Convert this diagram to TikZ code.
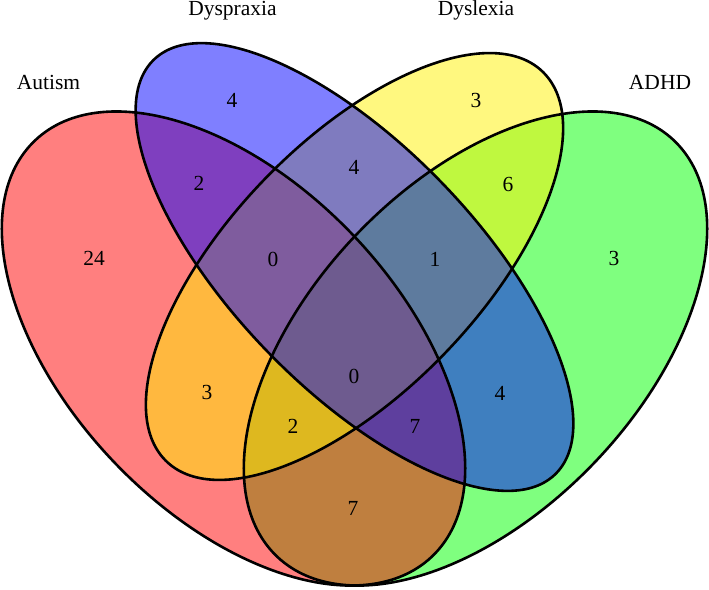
\documentclass[tikz,border=0pt]{standalone}
\usepackage{fontspec}
\setmainfont{Liberation Serif}
\begin{document}
\begin{tikzpicture}[x=1pt,y=-1pt,
  outl/.style={line width=2.6pt,draw=black,fill=none},
  setfill/.style={fill=#1,fill opacity=0.5,draw=none},
  num/.style={font=\fontsize{21.5}{25}\selectfont,inner sep=0pt},
  catlab/.style={font=\fontsize{21.5}{25}\selectfont,inner sep=0pt,anchor=base},
  ellR/.style={shift={(233.5,340.67)},rotate=135},
  ellG/.style={shift={(475.5,340.67)},rotate=45},
  ellB/.style={shift={(354.5,261.0)},rotate=135},
  ellY/.style={shift={(354.5,260.5)},rotate=45}]
\useasboundingbox (0,0) rectangle (709,589);
\begin{scope}[yscale=1.023]
  \fill[setfill=green,ellG] (0,0) ellipse (284.2pt and 163pt);
  \fill[setfill=red,ellR] (0,0) ellipse (284.2pt and 163pt);
  \fill[setfill=yellow,ellY] (0,0) ellipse (267.7pt and 123.9pt);
  \fill[setfill=blue,ellB] (0,0) ellipse (285.2pt and 120pt);
  \draw[outl,ellG] (0,0) ellipse (284.2pt and 163pt);
  \draw[outl,ellR] (0,0) ellipse (284.2pt and 163pt);
  \draw[outl,ellY] (0,0) ellipse (267.7pt and 123.9pt);
  \draw[outl,ellB] (0,0) ellipse (285.2pt and 120pt);
\end{scope}
\node[catlab] (lA) at (48.5,89) {Autism};
\node[catlab] (lP) at (232.5,16) {Dyspraxia};
\node[catlab] (lL) at (476,16) {Dyslexia};
\node[catlab] (lH) at (660,89) {ADHD};
\node[num] (n1) at (232,100) {4};
\node[num] (n2) at (476,100) {3};
\node[num] (n3) at (199,183) {2};
\node[num] (n4) at (354,167) {4};
\node[num] (n5) at (508,184) {6};
\node[num] (n6) at (94,258) {24};
\node[num] (n7) at (273,259) {0};
\node[num] (n8) at (435,259) {1};
\node[num] (n9) at (614,258) {3};
\node[num] (n10) at (354,376) {0};
\node[num] (n11) at (207,392) {3};
\node[num] (n12) at (500,393) {4};
\node[num] (n13) at (293,426) {2};
\node[num] (n14) at (415,426) {7};
\node[num] (n15) at (353,508) {7};
\end{tikzpicture}
\end{document}
